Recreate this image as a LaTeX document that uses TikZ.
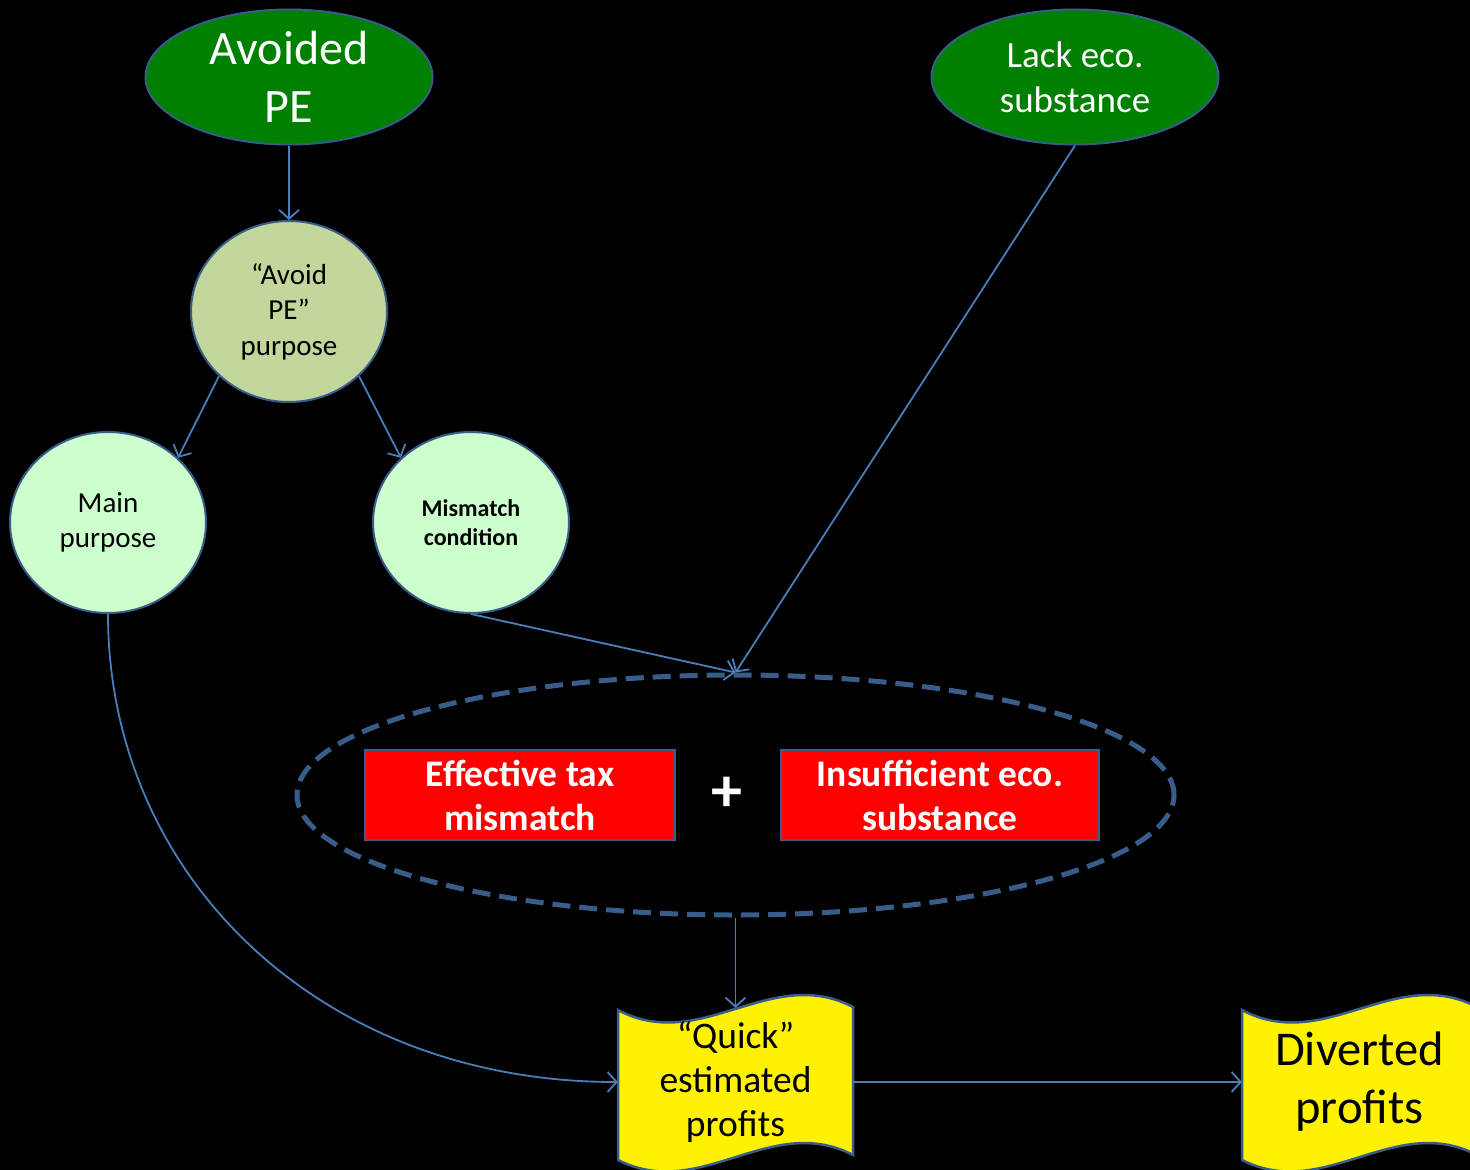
\documentclass[tikz,border=0pt]{standalone}
\usepackage{fontspec}
\setmainfont{Carlito}
\usepackage{xcolor}
\usetikzlibrary{arrows.meta, positioning, shapes.geometric}

\definecolor{pegreen}{RGB}{0,128,0}
\definecolor{olivefill}{RGB}{195,214,155}
\definecolor{mintfill}{RGB}{204,255,204}
\definecolor{edgeblue}{RGB}{56,93,138}
\definecolor{linkblue}{RGB}{74,126,187}

\tikzset{
  >={Straight Barb[length=9pt,width=20pt]},
  link/.style={->, draw=linkblue, line width=1.8pt},
  topnode/.style={ellipse, fill=pegreen, draw=edgeblue, line width=2pt, text=white,
    minimum width=287pt, minimum height=135pt, inner sep=0pt, align=center},
  roundnode/.style={ellipse, draw=edgeblue, line width=2pt, text=black,
    minimum width=196pt, minimum height=181pt, inner sep=0pt, align=center},
  redbox/.style={rectangle, fill=red, draw=edgeblue, line width=2pt, text=white,
    minimum height=90pt, inner sep=0pt, align=center,
    font=\fontsize{37.5}{44}\selectfont\bfseries},
  wavetext/.style={rectangle, minimum width=235pt, minimum height=148pt,
    inner sep=0pt, align=center, text=black},
  wave/.pic={
    \path[fill=yellow, draw=edgeblue, line width=2.5pt]
      (-117.5,-72) .. controls (-35,-28) and (35,-118) .. (117.5,-75)
      -- (117.5,73) .. controls (35,30) and (-35,120) .. (-117.5,78) -- cycle;
  }
}

\begin{document}
\begin{tikzpicture}[x=1pt, y=-1pt]
    \useasboundingbox (0,0) rectangle (1470,1170);
    \fill[black] (0,0) rectangle (1470,1170);

    % top ellipses
    \node[topnode, font=\fontsize{48}{58}\selectfont] (avoided) at (289,77) {Avoided\\PE};
    \node[topnode, font=\fontsize{37}{45}\selectfont] (lack) at (1075,77) {Lack eco.\\substance};

    % circles
    \node[roundnode, fill=olivefill, font=\fontsize{29}{35.5}\selectfont] (purpose) at (289,311.5) {“Avoid\\PE”\\purpose};
    \node[roundnode, fill=mintfill, font=\fontsize{29}{35}\selectfont] (mainp) at (108,522.5) {Main\\purpose};
    \node[roundnode, fill=mintfill, font=\fontsize{24}{29}\selectfont\bfseries] (mismatch) at (471,522.5) {Mismatch\\condition};

    % dashed group
    \node[ellipse, draw=edgeblue, line width=5pt, dash pattern=on 18pt off 9pt,
      minimum width=877pt, minimum height=240pt] (combo) at (735.5,795) {};
    \node[redbox, minimum width=310pt] (taxbox) at (520,795) {Effective tax\\mismatch};
    \node[redbox, minimum width=318pt] (ecobox) at (940,795) {Insufficient eco.\\substance};
    \node[text=white, font=\fontsize{62}{62}\selectfont\bfseries] (plus) at (727,794) {+};

    % waves
    \pic at (735.5,1082) {wave};
    \node[wavetext, font=\fontsize{37.5}{44}\selectfont] (quick) at (735.5,1082) {“Quick”\\estimated\\profits};
    \pic at (1359.5,1082) {wave};
    \node[wavetext, font=\fontsize{48.5}{58}\selectfont] (diverted) at (1359.5,1082) {Diverted\\profits};

    % connectors
    \draw[link] (avoided.south) -- (purpose.north);
    \draw[link] (purpose.south west) -- (mainp.north east);
    \draw[link] (purpose.south east) -- (mismatch.north west);
    \draw[link] (lack.south) -- (combo.north);
    \draw[link] (mismatch.south) -- (combo.north);
    \draw[link] (combo.south) -- (quick.north);
    \draw[link] (mainp.south) .. controls +(0,260) and +(-300,0) .. (quick.west);
    \draw[link] (quick.east) -- (diverted.west);
\end{tikzpicture}
\end{document}
